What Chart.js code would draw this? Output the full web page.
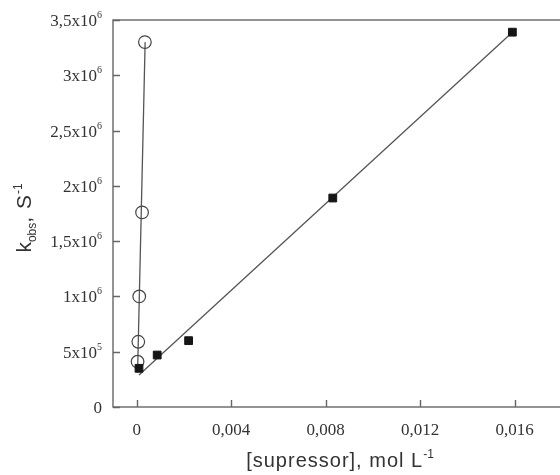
<!DOCTYPE html>
<html>
<head>
<meta charset="utf-8">
<script src="https://cdn.jsdelivr.net/npm/chart.js@4/dist/chart.umd.min.js"></script>
<style>
  html, body { margin: 0; padding: 0; background: #fff; overflow: hidden; }
  #wrap { width: 570px; height: 475px; }
</style>
</head>
<body>
<div id="wrap"><canvas id="kobs" width="570" height="475"></canvas></div>
<script>
"use strict";

// open circles
var circleX = [0.00004, 0.00007, 0.00011, 0.00023, 0.00035];
var circleY = [410000, 590000, 1000000, 1760000, 3300000];
// filled squares
var squareX = [0.0001, 0.00087, 0.0022, 0.0083, 0.0159];
var squareY = [350000, 470000, 600000, 1890000, 3390000];
// fitted lines (end points)
var circleFitX = [0.00004, 0.00036];
var circleFitY = [310000, 3300000];
var squareFitX = [0.0001, 0.0159];
var squareFitY = [290000, 3390000];

// ticks
var xTickValues = [0, 0.004, 0.008, 0.012, 0.016];
var xTickLabels = ["0", "0,004", "0,008", "0,012", "0,016"];
var yTickValues = [0, 500000, 1000000, 1500000, 2000000, 2500000, 3000000, 3500000];
var yTickBase = ["0", "5x10", "1x10", "1,5x10", "2x10", "2,5x10", "3x10", "3,5x10"];
var yTickExp = ["", "5", "6", "6", "6", "6", "6", "6"];

function toPoints(xs, ys) {
	return xs.map(function (x, i) { return { x: x, y: ys[i] }; });
}

// draws a run of text pieces with their own size, spacing and baseline shift
function drawRich(ctx, parts, x, y, align, family) {
	var total = 0;
	parts.forEach(function (p) {
		ctx.font = p.size + "px " + family;
		ctx.letterSpacing = p.sp || "0px";
		p.w = ctx.measureText(p.t).width;
		total += p.w;
	});
	var cx = x;
	if (align === "center") cx = x - total / 2;
	if (align === "right") cx = x - total;
	ctx.textAlign = "left";
	ctx.textBaseline = "alphabetic";
	parts.forEach(function (p) {
		ctx.font = p.size + "px " + family;
		ctx.letterSpacing = p.sp || "0px";
		ctx.fillText(p.t, cx, y + (p.dy || 0));
		cx += p.w;
	});
	ctx.letterSpacing = "0px";
}

var axesPlugin = {
	id: "axesPlugin",
	afterDraw: function (chart) {
		var ctx = chart.ctx;
		var a = chart.chartArea;
		var xs = chart.scales.x, ys = chart.scales.y;
		var serif = "'Liberation Serif', 'Times New Roman', serif";
		var sans = "'Liberation Sans', Arial, sans-serif";
		ctx.save();

		// frame (right side falls past the visible page)
		ctx.strokeStyle = "#666";
		ctx.lineWidth = 1.4;
		ctx.strokeRect(a.left, a.top, a.right - a.left, a.bottom - a.top);

		// inward ticks
		ctx.beginPath();
		xTickValues.forEach(function (v) {
			var px = Math.round(xs.getPixelForValue(v)) + 0.5;
			ctx.moveTo(px, a.bottom);
			ctx.lineTo(px, a.bottom - 7);
		});
		yTickValues.forEach(function (v) {
			var py = Math.round(ys.getPixelForValue(v)) + 0.5;
			ctx.moveTo(a.left, py);
			ctx.lineTo(a.left + 7, py);
		});
		ctx.stroke();

		ctx.fillStyle = "#333";

		// x tick labels
		ctx.font = "17px " + serif;
		ctx.textAlign = "center";
		ctx.textBaseline = "middle";
		xTickValues.forEach(function (v, i) {
			ctx.fillText(xTickLabels[i], xs.getPixelForValue(v), a.bottom + 24);
		});

		// y tick labels with exponent
		yTickValues.forEach(function (v, i) {
			var py = ys.getPixelForValue(v) + 6;
			var parts = [{ t: yTickBase[i], size: 17 }];
			if (yTickExp[i]) parts.push({ t: yTickExp[i], size: 10, dy: -8 });
			drawRich(ctx, parts, a.left - 11, py, "right", serif);
		});

		// x title
		drawRich(ctx, [
			{ t: "[supressor], mol L", size: 20, sp: "1px" },
			{ t: "-1", size: 12, dy: -9 }
		], 340, 467, "center", sans);

		// y title
		ctx.save();
		ctx.translate(31, 218);
		ctx.rotate(-Math.PI / 2);
		drawRich(ctx, [
			{ t: "k", size: 21 },
			{ t: "obs", size: 12, dy: 5 },
			{ t: ", S", size: 21, sp: "1px" },
			{ t: "-1", size: 12, dy: -9 }
		], 0, 0, "center", sans);
		ctx.restore();

		ctx.restore();
	}
};

var chart = new Chart(document.getElementById("kobs"), {
	type: "scatter",
	data: {
		datasets: [{
			label: "squares",
			data: toPoints(squareX, squareY),
			pointStyle: "rect",
			pointRadius: 5.5,
			backgroundColor: "#151515",
			borderColor: "#151515",
			borderWidth: 1,
			order: 0
		}, {
			label: "circles",
			data: toPoints(circleX, circleY),
			pointStyle: "circle",
			pointRadius: 6.3,
			backgroundColor: "rgba(0,0,0,0)",
			borderColor: "#444",
			borderWidth: 1.2,
			order: 1
		}, {
			type: "line",
			label: "square fit",
			data: toPoints(squareFitX, squareFitY),
			borderColor: "#555",
			borderWidth: 1.3,
			pointRadius: 0,
			fill: false,
			order: 2
		}, {
			type: "line",
			label: "circle fit",
			data: toPoints(circleFitX, circleFitY),
			borderColor: "#555",
			borderWidth: 1.3,
			pointRadius: 0,
			fill: false,
			order: 3
		}]
	},
	options: {
		responsive: false,
		animation: false,
		layout: { autoPadding: false, padding: { left: 113, top: 20, right: 8, bottom: 68 } },
		plugins: { legend: { display: false }, tooltip: { enabled: false } },
		scales: {
			x: { type: "linear", min: -0.001, max: 0.018, display: false },
			y: { type: "linear", min: 0, max: 3500000, display: false }
		}
	},
	plugins: [axesPlugin]
});
</script>
</body>
</html>
